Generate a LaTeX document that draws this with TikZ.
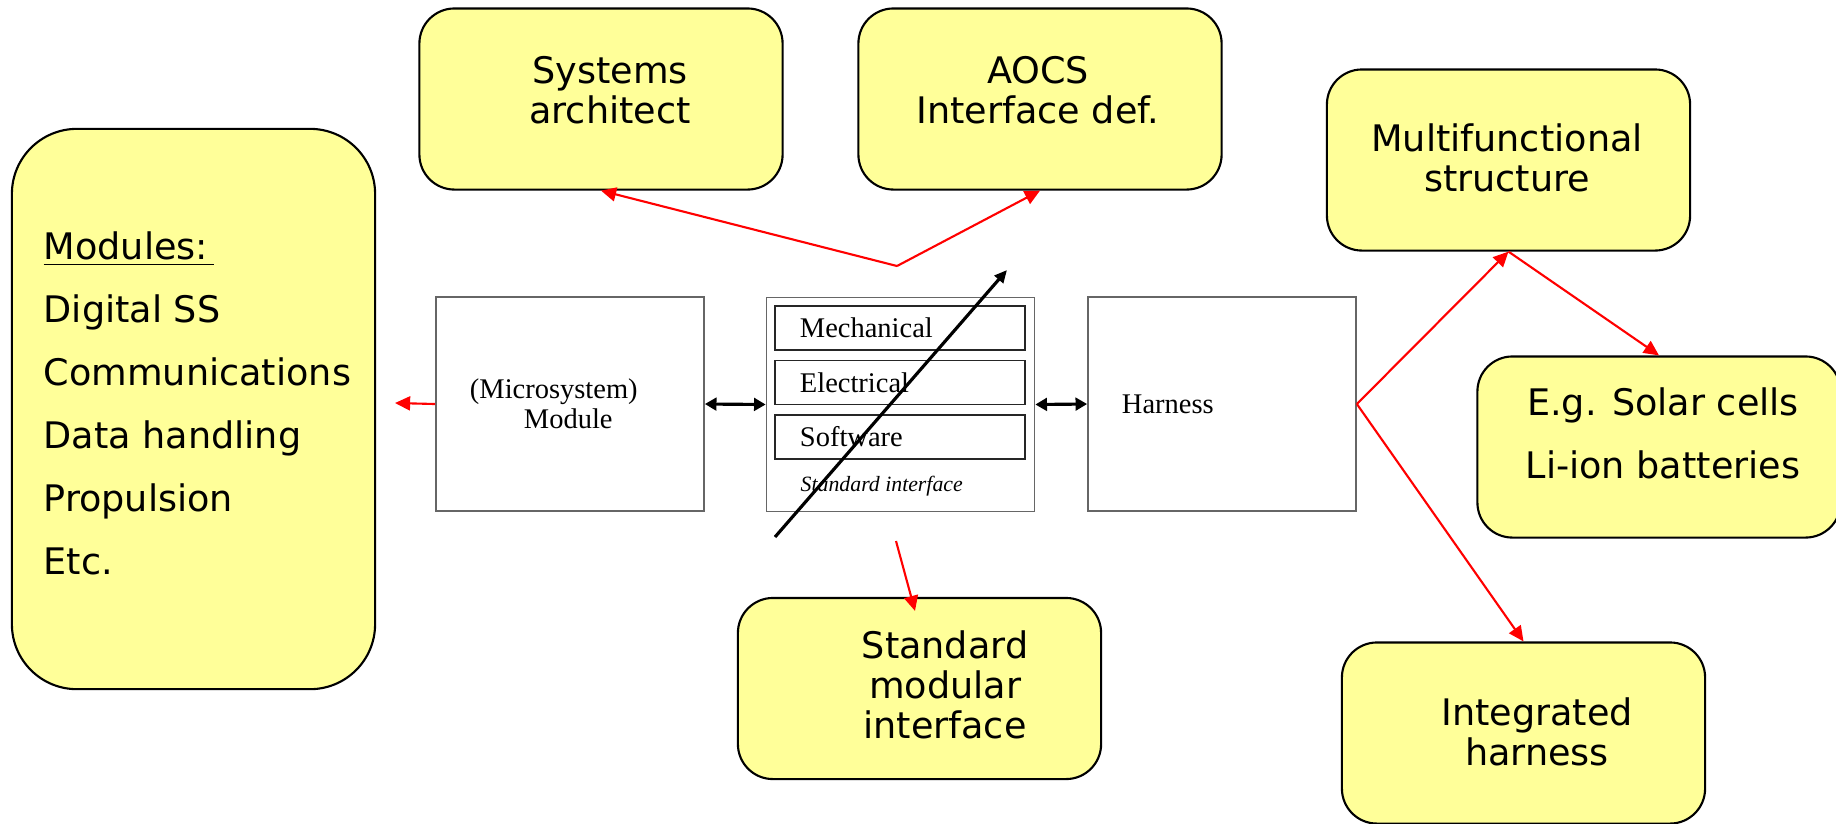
\documentclass[tikz,border=0pt]{standalone}
\usepackage{fontspec}
\setmainfont{Liberation Serif}
\setsansfont{DejaVu Sans}
\usetikzlibrary{arrows.meta}
\definecolor{notepad}{RGB}{255,255,153}
\newcommand*{\notew }{3.63cm}
\newcommand*{\noteh }{1.81cm}
\newcommand*{\blockw}{2.68cm}
\newcommand*{\blockh}{2.14cm}
\newcommand*{\notefont}{\sffamily\fontsize{10.4}{11.4}\selectfont}
\newcommand*{\listfont}{\sffamily\fontsize{10.4}{17.9}\selectfont}
\newcommand*{\romfont }{\fontsize{8.1}{8.6}\selectfont}
\tikzset{
    note/.style={draw=black, line width=0.6pt, fill=notepad, rounded corners=0.35cm,
        minimum width=\notew, minimum height=\noteh, inner sep=0pt},
    notetext/.style={align=center, inner sep=0pt, font=\notefont},
    block/.style={draw=black!60, line width=0.45pt, minimum width=\blockw, minimum height=\blockh,
        inner ysep=0pt, inner xsep=0.34cm, text width=2.0cm, align=left, font=\romfont},
    layer/.style={draw=black!85, line width=0.4pt, minimum width=2.5cm, minimum height=0.44cm,
        inner ysep=0pt, inner xsep=0.25cm, text width=2.0cm, align=left, font=\romfont},
    feed/.style={draw=red, line width=0.6pt, -{Triangle[length=4.3pt,width=4pt]}},
    link/.style={draw=black, line width=0.9pt,
        {Triangle[length=3.3pt,width=3.6pt]}-{Triangle[length=3.3pt,width=3.6pt]}},
}

\begin{document}
\begin{tikzpicture}[x=0.01cm, y=-0.01cm]
    \useasboundingbox (0,0) rectangle (1836,823);

    % module list on the left
    \node [note, rounded corners=0.65cm, minimum height=5.6cm] (modules) at (193.5,409) {};
    \node [anchor=west, align=left, inner sep=0pt, font=\listfont] (modlist) at (43,403)
        {\underline{Modules:\,}\\Digital SS\\Communications\\Data handling\\Propulsion\\Etc.};

    % yellow notes
    \node [note] (arch) at ( 601,  99) {};
    \node [note] (aocs) at (1040,  99) {};
    \node [note] (mf)   at (1508.5,160) {};
    \node [note] (eg)   at (1659, 447) {};
    \node [note] (intg) at (1523.5,733) {};
    \node [note] (smi)  at ( 919.5,688.5) {};
    \node [notetext] (archtxt) at ( 610, 90) {Systems\\architect};
    \node [notetext] (aocstxt) at (1038, 90) {AOCS\\Interface def.};
    \node [notetext] (mftxt)   at (1507,158) {Multifunctional\\structure};
    \node [notetext, font=\listfont] (egtxt) at (1663,433) {E.g. Solar cells\\Li-ion batteries};
    \node [notetext] (intgtxt) at (1537,732) {Integrated\\harness};
    \node [notetext] (smitxt)  at ( 945,685) {Standard\\modular\\interface};

    % the three blocks
    \node [block] (module)  at ( 570,404) {(Microsystem)\\\hspace*{0.54cm}Module};
    \node [block] (iface)   at ( 900.5,404.5) {};
    \node [block] (harness) at (1222,404) {Harness};
    \node [layer] (mech) at (900,328)   {Mechanical};
    \node [layer] (elec) at (900,382.5) {Electrical};
    \node [layer] (soft) at (900,437)   {Software};
    \node [anchor=base west, inner sep=0pt, font=\itshape\fontsize{6.2}{7}\selectfont] (stdlbl)
        at (800,491) {Standard interface};

    \draw [link] (module.east) -- (iface.west);
    \draw [link] (iface.east) -- (harness.west);

    \coordinate (tail) at (775,537);
    \coordinate (head) at (1007,270);
    \draw [line width=0.9pt, -{Triangle[length=3.6pt,width=3.2pt]}] (tail) -- (head);

    % red links
    \coordinate (out)  at (395,403);
    \coordinate (fork) at (897,266);
    \coordinate (drop) at (896,541);
    \draw [feed] (module.west) -- (out);
    \draw [feed] (fork) -- (arch.south);
    \draw [feed] (fork) -- (aocs.south);
    \draw [feed] (drop) -- ([xshift=-0.045cm,yshift=-0.14cm]smi.north);
    \draw [feed] (harness.east) -- (mf.south);
    \draw [feed] (mf.south) -- (eg.north);
    \draw [feed] (harness.east) -- (intg.north);
\end{tikzpicture}
\end{document}
